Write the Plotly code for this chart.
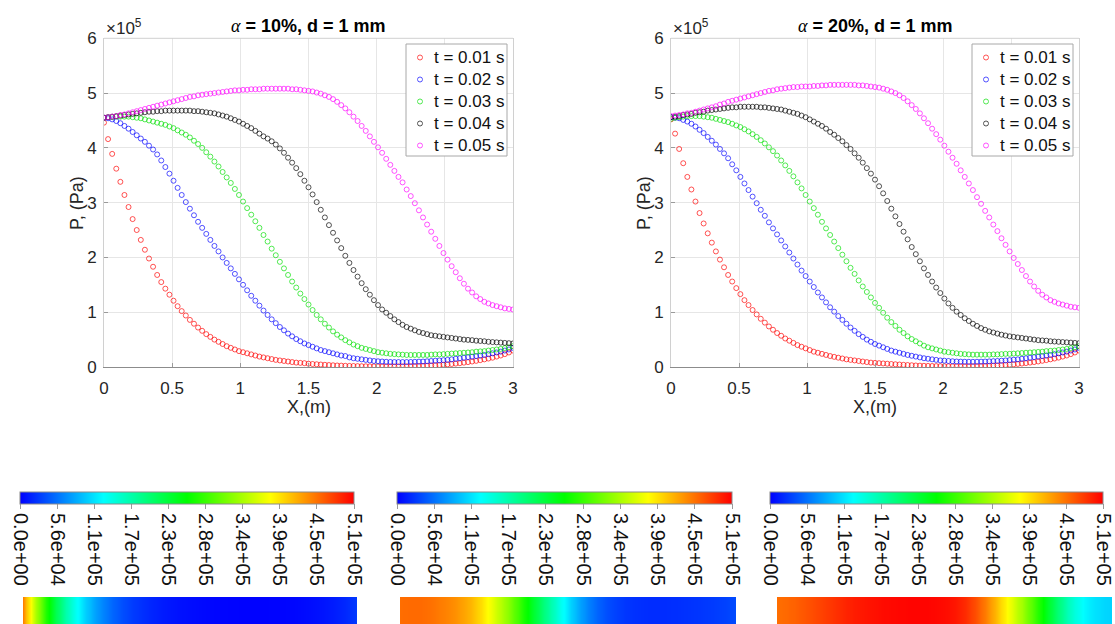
import plotly.graph_objects as go

W, H = 1115, 624

# ---------------- data (pressure in units of 1e5 Pa) ----------------
X_M = [round(0.03 * i, 2) for i in range(101)]
TIME_LABELS = ["t = 0.01 s", "t = 0.02 s", "t = 0.03 s", "t = 0.04 s", "t = 0.05 s"]
SERIES_COLORS = ["#ff0000", "#0000ff", "#00e000", "#000000", "#ff00ff"]
PANEL_TITLES = ["<b> = 10%, d = 1 mm</b>", "<b> = 20%, d = 1 mm</b>"]

L_T01 = [4.46, 4.16, 3.89, 3.62, 3.38, 3.14, 2.92, 2.70, 2.50, 2.32,
         2.14, 1.98, 1.83, 1.68, 1.55, 1.43, 1.32, 1.21, 1.11, 1.02,
         0.94, 0.86, 0.79, 0.72, 0.66, 0.60, 0.55, 0.50, 0.46, 0.42,
         0.38, 0.35, 0.32, 0.29, 0.27, 0.25, 0.23, 0.21, 0.19, 0.175,
         0.16, 0.145, 0.13, 0.12, 0.11, 0.10, 0.09, 0.08, 0.075, 0.07,
         0.06, 0.055, 0.05, 0.045, 0.04, 0.036, 0.032, 0.028, 0.025, 0.022,
         0.02, 0.018, 0.016, 0.014, 0.013, 0.012, 0.011, 0.010, 0.010, 0.010,
         0.010, 0.010, 0.011, 0.012, 0.013, 0.014, 0.016, 0.018, 0.021, 0.024,
         0.028, 0.032, 0.037, 0.042, 0.048, 0.055, 0.062, 0.070, 0.079, 0.089,
         0.100, 0.112, 0.125, 0.139, 0.154, 0.170, 0.19, 0.21, 0.235, 0.265,
         0.30]
L_T02 = [4.55, 4.54, 4.52, 4.49, 4.45, 4.40, 4.35, 4.29, 4.23, 4.17,
         4.11, 4.04, 3.97, 3.88, 3.77, 3.65, 3.53, 3.40, 3.27, 3.14,
         3.01, 2.89, 2.77, 2.65, 2.54, 2.43, 2.32, 2.21, 2.11, 2.00,
         1.90, 1.80, 1.70, 1.60, 1.50, 1.40, 1.30, 1.21, 1.12, 1.03,
         0.95, 0.87, 0.80, 0.73, 0.67, 0.61, 0.56, 0.51, 0.47, 0.43,
         0.40, 0.37, 0.34, 0.31, 0.29, 0.27, 0.25, 0.23, 0.21, 0.20,
         0.175, 0.16, 0.15, 0.14, 0.13, 0.12, 0.11, 0.105, 0.10, 0.095,
         0.092, 0.09, 0.09, 0.09, 0.09, 0.092, 0.095, 0.098, 0.10, 0.105,
         0.11, 0.115, 0.12, 0.125, 0.13, 0.14, 0.15, 0.16, 0.17, 0.18,
         0.19, 0.20, 0.21, 0.22, 0.235, 0.25, 0.265, 0.28, 0.30, 0.32,
         0.35]
L_T03 = [4.55, 4.56, 4.56, 4.57, 4.57, 4.57, 4.57, 4.56, 4.55, 4.54,
         4.52, 4.50, 4.48, 4.46, 4.44, 4.42, 4.39, 4.36, 4.32, 4.28,
         4.24, 4.19, 4.13, 4.07, 4.00, 3.92, 3.84, 3.75, 3.66, 3.56,
         3.46, 3.36, 3.25, 3.14, 3.02, 2.90, 2.78, 2.66, 2.54, 2.41,
         2.29, 2.16, 2.04, 1.92, 1.80, 1.68, 1.56, 1.45, 1.34, 1.24,
         1.14, 1.04, 0.95, 0.87, 0.79, 0.72, 0.65, 0.59, 0.54, 0.49,
         0.45, 0.41, 0.38, 0.35, 0.33, 0.31, 0.29, 0.27, 0.26, 0.25,
         0.24, 0.235, 0.23, 0.225, 0.22, 0.22, 0.22, 0.22, 0.22, 0.22,
         0.225, 0.23, 0.23, 0.235, 0.24, 0.245, 0.25, 0.255, 0.26, 0.265,
         0.27, 0.28, 0.285, 0.29, 0.30, 0.31, 0.32, 0.33, 0.345, 0.36,
         0.38]
L_T04 = [4.55, 4.56, 4.57, 4.58, 4.59, 4.60, 4.61, 4.62, 4.63, 4.64,
         4.65, 4.66, 4.66, 4.67, 4.67, 4.68, 4.68, 4.68, 4.68, 4.68,
         4.68, 4.68, 4.67, 4.67, 4.66, 4.65, 4.64, 4.63, 4.61, 4.59,
         4.57, 4.54, 4.51, 4.48, 4.44, 4.40, 4.36, 4.31, 4.26, 4.21,
         4.17, 4.12, 4.06, 3.99, 3.91, 3.82, 3.73, 3.63, 3.52, 3.40,
         3.28, 3.15, 3.01, 2.87, 2.73, 2.59, 2.45, 2.31, 2.17, 2.03,
         1.90, 1.77, 1.65, 1.53, 1.42, 1.32, 1.22, 1.13, 1.05, 0.99,
         0.93, 0.87, 0.82, 0.77, 0.73, 0.70, 0.67, 0.64, 0.62, 0.60,
         0.58, 0.57, 0.56, 0.55, 0.54, 0.53, 0.52, 0.51, 0.50, 0.495,
         0.49, 0.48, 0.475, 0.47, 0.46, 0.455, 0.45, 0.445, 0.44, 0.435,
         0.43]
L_T05 = [4.55, 4.56, 4.57, 4.58, 4.60, 4.61, 4.63, 4.65, 4.67, 4.69,
         4.71, 4.73, 4.75, 4.77, 4.79, 4.81, 4.83, 4.85, 4.87, 4.89,
         4.91, 4.93, 4.94, 4.96, 4.97, 4.98, 4.99, 5.00, 5.01, 5.02,
         5.03, 5.04, 5.05, 5.05, 5.06, 5.06, 5.07, 5.07, 5.07, 5.08,
         5.08, 5.08, 5.08, 5.08, 5.08, 5.08, 5.07, 5.07, 5.06, 5.05,
         5.04, 5.03, 5.01, 4.99, 4.96, 4.93, 4.89, 4.84, 4.78, 4.72,
         4.65, 4.57, 4.49, 4.40, 4.31, 4.21, 4.11, 4.01, 3.91, 3.80,
         3.69, 3.58, 3.47, 3.37, 3.24, 3.12, 2.99, 2.86, 2.73, 2.60,
         2.47, 2.34, 2.21, 2.08, 1.96, 1.84, 1.73, 1.62, 1.52, 1.43,
         1.36, 1.29, 1.24, 1.19, 1.16, 1.13, 1.11, 1.09, 1.07, 1.06,
         1.05]

R_T01 = [4.52, 4.26, 3.98, 3.72, 3.47, 3.24, 3.02, 2.81, 2.62, 2.44,
         2.27, 2.11, 1.96, 1.82, 1.68, 1.56, 1.44, 1.33, 1.22, 1.13,
         1.04, 0.96, 0.88, 0.81, 0.74, 0.68, 0.62, 0.57, 0.52, 0.48,
         0.44, 0.40, 0.37, 0.34, 0.31, 0.28, 0.26, 0.24, 0.22, 0.20,
         0.185, 0.17, 0.155, 0.14, 0.13, 0.12, 0.11, 0.10, 0.09, 0.08,
         0.075, 0.07, 0.065, 0.06, 0.055, 0.05, 0.045, 0.04, 0.036, 0.032,
         0.028, 0.025, 0.022, 0.02, 0.018, 0.016, 0.015, 0.014, 0.013, 0.012,
         0.012, 0.012, 0.012, 0.013, 0.014, 0.015, 0.017, 0.019, 0.022, 0.025,
         0.029, 0.033, 0.038, 0.043, 0.049, 0.056, 0.063, 0.071, 0.080, 0.090,
         0.101, 0.113, 0.126, 0.140, 0.155, 0.171, 0.19, 0.21, 0.235, 0.265,
         0.30]
R_T02 = [4.56, 4.55, 4.54, 4.51, 4.48, 4.44, 4.39, 4.33, 4.27, 4.20,
         4.13, 4.06, 3.98, 3.90, 3.81, 3.70, 3.59, 3.47, 3.35, 3.23,
         3.11, 2.99, 2.87, 2.76, 2.64, 2.53, 2.42, 2.31, 2.20, 2.09,
         1.98, 1.87, 1.76, 1.66, 1.56, 1.46, 1.36, 1.27, 1.18, 1.09,
         1.01, 0.93, 0.86, 0.79, 0.72, 0.66, 0.60, 0.55, 0.50, 0.46,
         0.42, 0.39, 0.36, 0.33, 0.30, 0.28, 0.26, 0.24, 0.22, 0.205,
         0.19, 0.175, 0.16, 0.15, 0.14, 0.13, 0.12, 0.115, 0.11, 0.105,
         0.10, 0.098, 0.096, 0.095, 0.095, 0.096, 0.098, 0.10, 0.103, 0.107,
         0.11, 0.115, 0.12, 0.126, 0.133, 0.14, 0.15, 0.16, 0.17, 0.18,
         0.19, 0.20, 0.21, 0.22, 0.235, 0.25, 0.265, 0.28, 0.30, 0.32,
         0.35]
R_T03 = [4.53, 4.55, 4.56, 4.57, 4.58, 4.58, 4.58, 4.58, 4.57, 4.56,
         4.55, 4.53, 4.51, 4.49, 4.47, 4.44, 4.41, 4.38, 4.34, 4.30,
         4.25, 4.20, 4.14, 4.08, 4.01, 3.94, 3.86, 3.77, 3.68, 3.58,
         3.48, 3.37, 3.26, 3.14, 3.02, 2.90, 2.78, 2.65, 2.53, 2.41,
         2.29, 2.17, 2.05, 1.93, 1.81, 1.70, 1.58, 1.47, 1.37, 1.27,
         1.17, 1.08, 0.99, 0.90, 0.82, 0.75, 0.68, 0.62, 0.56, 0.51,
         0.47, 0.43, 0.39, 0.36, 0.34, 0.32, 0.30, 0.28, 0.27, 0.26,
         0.25, 0.24, 0.235, 0.23, 0.225, 0.225, 0.225, 0.225, 0.225, 0.23,
         0.23, 0.235, 0.24, 0.24, 0.245, 0.25, 0.255, 0.26, 0.265, 0.27,
         0.275, 0.28, 0.29, 0.295, 0.30, 0.31, 0.32, 0.33, 0.345, 0.36,
         0.38]
R_T04 = [4.56, 4.57, 4.58, 4.60, 4.61, 4.62, 4.64, 4.65, 4.66, 4.68,
         4.69, 4.70, 4.71, 4.72, 4.73, 4.74, 4.74, 4.75, 4.75, 4.75,
         4.75, 4.75, 4.74, 4.74, 4.73, 4.72, 4.71, 4.70, 4.68, 4.66,
         4.64, 4.62, 4.59, 4.56, 4.52, 4.48, 4.44, 4.40, 4.35, 4.29,
         4.24, 4.18, 4.12, 4.05, 3.98, 3.90, 3.82, 3.73, 3.63, 3.53,
         3.42, 3.30, 3.17, 3.03, 2.89, 2.75, 2.61, 2.47, 2.33, 2.19,
         2.06, 1.93, 1.80, 1.68, 1.56, 1.45, 1.35, 1.25, 1.16, 1.08,
         1.01, 0.95, 0.89, 0.84, 0.79, 0.75, 0.71, 0.68, 0.65, 0.63,
         0.61, 0.59, 0.575, 0.56, 0.55, 0.54, 0.53, 0.52, 0.51, 0.50,
         0.49, 0.485, 0.48, 0.47, 0.465, 0.46, 0.455, 0.45, 0.445, 0.44,
         0.435]
R_T05 = [4.58, 4.59, 4.60, 4.61, 4.63, 4.64, 4.66, 4.68, 4.70, 4.72,
         4.74, 4.76, 4.79, 4.81, 4.84, 4.86, 4.88, 4.90, 4.92, 4.94,
         4.96, 4.98, 5.00, 5.02, 5.04, 5.05, 5.07, 5.08, 5.09, 5.10,
         5.11, 5.11, 5.12, 5.12, 5.12, 5.13, 5.13, 5.14, 5.14, 5.15,
         5.15, 5.15, 5.15, 5.15, 5.15, 5.15, 5.14, 5.14, 5.13, 5.12,
         5.11, 5.10, 5.08, 5.06, 5.03, 5.00, 4.96, 4.91, 4.85, 4.78,
         4.71, 4.63, 4.54, 4.45, 4.35, 4.25, 4.15, 4.04, 3.93, 3.82,
         3.71, 3.59, 3.47, 3.35, 3.23, 3.10, 2.98, 2.85, 2.73, 2.60,
         2.48, 2.35, 2.23, 2.11, 1.99, 1.88, 1.77, 1.66, 1.56, 1.47,
         1.39, 1.32, 1.27, 1.22, 1.19, 1.16, 1.14, 1.12, 1.10, 1.09,
         1.08]

LEFT_SERIES = [L_T01, L_T02, L_T03, L_T04, L_T05]
RIGHT_SERIES = [R_T01, R_T02, R_T03, R_T04, R_T05]

# colour strips (pressure fields shown below), in Pa
STRIP_SERIES = [L_T01, L_T03, L_T05]
CB_MAX_PA = 5.1e5
CB_TICK_TEXT = ["0.0e+00", "5.6e+04", "1.1e+05", "1.7e+05", "2.3e+05",
                "2.8e+05", "3.4e+05", "3.9e+05", "4.5e+05", "5.1e+05"]
RAINBOW = [[0.0, "#0000ff"], [0.25, "#00ffff"], [0.5, "#00ff00"],
           [0.75, "#ffff00"], [1.0, "#ff0000"]]

FONT = "Liberation Sans, Arial, sans-serif"
TXT = "#262626"
MARKER_OPACITY = 0.75

def px_x(p):
    return p / W

def px_y(p):
    return 1 - p / H

fig = go.Figure()

# ---------------- scatter panels ----------------
panels = [
    dict(series=LEFT_SERIES, xa="x", ya="y"),
    dict(series=RIGHT_SERIES, xa="x2", ya="y2"),
]
for pnl in panels:
    for lab, col, vals in zip(TIME_LABELS, SERIES_COLORS, pnl["series"]):
        fig.add_trace(go.Scatter(
            x=X_M, y=vals, mode="markers", name=lab, showlegend=False,
            xaxis=pnl["xa"], yaxis=pnl["ya"],
            marker=dict(symbol="circle-open", size=5, color=col, opacity=MARKER_OPACITY,
                        line=dict(width=0.9, color=col)),
        ))

# ---------------- colour strips with colourbars ----------------
strip_dom = [(23, 357), (400, 736), (777, 1112)]
cb_pos = [(20, 334), (397, 335), (770, 333)]
cb_tickvals = [CB_MAX_PA * k / 9 for k in range(10)]
for k, vals in enumerate(STRIP_SERIES):
    pa = [v * 1e5 for v in vals]
    fig.add_trace(go.Heatmap(
        x=X_M, y=[0, 1], z=[pa, pa], zmin=0, zmax=CB_MAX_PA,
        colorscale=RAINBOW, zsmooth="best", hoverinfo="skip",
        xaxis=f"x{k + 3}", yaxis=f"y{k + 3}",
        colorbar=dict(
            orientation="h", xref="container", yref="container",
            x=px_x(cb_pos[k][0]), xanchor="left",
            y=px_y(492), yanchor="top",
            len=cb_pos[k][1], lenmode="pixels",
            thickness=12, thicknessmode="pixels",
            xpad=0, ypad=0, outlinewidth=1, outlinecolor="#8a8a8a",
            tickmode="array", tickvals=cb_tickvals, ticktext=CB_TICK_TEXT,
            tickangle=90, tickfont=dict(family=FONT, size=20, color="#111"),
            ticks="outside", ticklen=5, tickcolor="#9a9a9a",
            ticklabeloverflow="allow",
        ),
    ))

axis_common = dict(
    showgrid=True, gridcolor="#e6e6e6", gridwidth=1, zeroline=False,
    ticks="inside", ticklen=4, tickcolor="#9a9a9a",
    tickfont=dict(family=FONT, size=17, color=TXT), showline=True,
)
plot_x = [(104, 513), (671, 1079)]
ydom = [px_y(367), px_y(38.3)]
layout = dict(
    width=W, height=H, margin=dict(l=0, r=0, t=0, b=0, autoexpand=False),
    paper_bgcolor="white", plot_bgcolor="white",
    font=dict(family=FONT, color=TXT),
    showlegend=False,
)
for i, (x0, x1) in enumerate(plot_x):
    sfx = "" if i == 0 else "2"
    layout[f"xaxis{sfx}"] = dict(
        axis_common, domain=[px_x(x0), px_x(x1)], range=[0, 3], dtick=0.5, tick0=0,
        anchor=f"y{sfx}", linecolor="#8c8c8c", linewidth=1.3, mirror=False,
        ticklabelstandoff=5,
    )
    layout[f"yaxis{sfx}"] = dict(
        axis_common, domain=ydom, range=[0, 6], dtick=1, tick0=0,
        anchor=f"x{sfx}", linecolor="#d0d0d0", linewidth=1, mirror=True,
        ticklabelstandoff=3,
    )
for k, (x0, x1) in enumerate(strip_dom):
    layout[f"xaxis{k + 3}"] = dict(domain=[px_x(x0), px_x(x1)], range=[0, 3],
                                   visible=False, anchor=f"y{k + 3}")
    layout[f"yaxis{k + 3}"] = dict(domain=[0, px_y(597)], range=[0, 1],
                                   visible=False, anchor=f"x{k + 3}")
fig.update_layout(**layout)

# top border of each panel
for sfx in ["", "2"]:
    fig.add_shape(type="line", xref=f"x{sfx} domain", yref=f"y{sfx} domain",
                  x0=0, x1=1, y0=1, y1=1, line=dict(color="#d0d0d0", width=1))

# legends (box, marker glyph, label) placed in pixel space
legend_boxes = [(406, 507), (972, 1073)]
LEG_TOP, LEG_BOTTOM, LEG_ROW0, LEG_ROW_STEP = 44, 156, 57.5, 22
for (bx0, bx1) in legend_boxes:
    fig.add_shape(type="rect", xref="paper", yref="paper",
                  x0=px_x(bx0), x1=px_x(bx1), y0=px_y(LEG_BOTTOM), y1=px_y(LEG_TOP),
                  line=dict(color="#a8a8a8", width=1), fillcolor="white", layer="above")
    for j, (lab, col) in enumerate(zip(TIME_LABELS, SERIES_COLORS)):
        cy = LEG_ROW0 + j * LEG_ROW_STEP
        mx = bx0 + 14
        fig.add_shape(type="circle", xref="paper", yref="paper",
                      x0=px_x(mx - 2.5), x1=px_x(mx + 2.5),
                      y0=px_y(cy + 2.5), y1=px_y(cy - 2.5),
                      line=dict(color=col, width=0.9), opacity=MARKER_OPACITY,
                      layer="above")
        fig.add_annotation(text=lab, xref="paper", yref="paper",
                           x=px_x(bx0 + 26), y=px_y(cy), xanchor="left", yanchor="middle",
                           showarrow=False, font=dict(family=FONT, size=17, color="#111"))

# titles and axis labels
for i, (x0, x1) in enumerate(plot_x):
    cx = (x0 + x1) / 2
    fig.add_annotation(
        text="<span style='font-family:\"Liberation Serif\",serif;font-style:italic;font-weight:normal'>α</span>"
             + PANEL_TITLES[i],
        xref="paper", yref="paper",
        x=px_x(cx), y=px_y(26), xanchor="center", yanchor="middle",
        showarrow=False, font=dict(family=FONT, size=18, color="#000"))
    fig.add_annotation(text="×10<sup>5</sup>", xref="paper", yref="paper",
                       x=px_x(x0), y=px_y(27), xanchor="left", yanchor="middle",
                       showarrow=False, font=dict(family=FONT, size=17, color=TXT))
    fig.add_annotation(text="X,(m)", xref="paper", yref="paper",
                       x=px_x(cx), y=px_y(407), xanchor="center", yanchor="middle",
                       showarrow=False, font=dict(family=FONT, size=18, color=TXT))
    fig.add_annotation(text="P, (Pa)", xref="paper", yref="paper", textangle=-90,
                       x=px_x(x0 - 27), y=px_y(203), xanchor="center", yanchor="middle",
                       showarrow=False, font=dict(family=FONT, size=18, color=TXT))

fig.write_html("out.html")
